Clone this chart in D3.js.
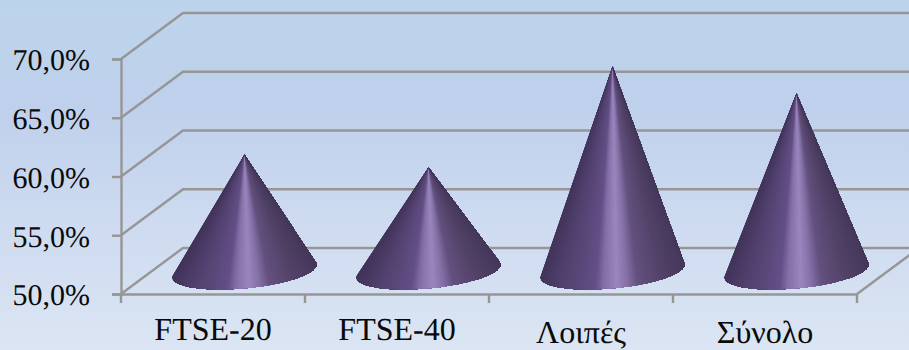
<!DOCTYPE html>
<html>
<head>
<meta charset="utf-8">
<script src="https://cdn.jsdelivr.net/npm/d3@7"></script>
<style>
html,body{margin:0;padding:0;background:#dbe4f3;}
svg{display:block;}
text{font-family:"Liberation Serif","Times New Roman",serif;fill:#0a0a0a;text-rendering:geometricPrecision;}
</style>
</head>
<body>
<svg id="chart" width="909" height="350"></svg>
<script>
// Chart values
const categories = ["FTSE-20", "FTSE-40", "Λοιπές", "Σύνολο"];
const shares = [59.9, 58.8, 67.4, 65.1];
const yTicks = [50, 55, 60, 65, 70];

const width = 909, height = 350;
const svg = d3.select("#chart");

// Oblique projection of the 3D box: back wall sits up and to the right
const depth = { dx: 62, dy: -46 };
const x = d3.scaleBand().domain(categories).range([121, 857]);
const y = d3.scaleLinear().domain([50, 70]).range([294, 59]);
const axisColor = "#969696";
const tickLabel = v => d3.format(".1f")(v).replace(".", ",") + "%";

// Page background
const defs = svg.append("defs");
const bg = defs.append("linearGradient").attr("id", "page")
  .attr("x1", 0).attr("y1", 0).attr("x2", 0).attr("y2", 1);
[[0, "#bcd4eb"], [0.3, "#bfd0ec"], [0.65, "#cedbf0"], [1, "#dbe5f3"]]
  .forEach(([o, c]) => bg.append("stop").attr("offset", o).attr("stop-color", c));
svg.append("rect").attr("width", width).attr("height", height).attr("fill", "url(#page)");

// Gridlines: side-wall slant plus back-wall run
const grid = svg.append("g").attr("fill", "none").attr("stroke", axisColor).attr("stroke-width", 2.4);
grid.selectAll("path").data(yTicks).join("path")
  .attr("d", v => d3.line()([
    [x.range()[0], y(v)],
    [x.range()[0] + depth.dx, y(v) + depth.dy],
    [x.range()[1] + depth.dx, y(v) + depth.dy]
  ]));
grid.append("path").attr("d", d3.line()([
  [x.range()[1], y(50)], [x.range()[1] + depth.dx, y(50) + depth.dy]
]));

// Axes with ticks and labels
const yAxis = d3.axisLeft(y).tickValues(yTicks).tickFormat(tickLabel).tickSize(9).tickPadding(22);
const yG = svg.append("g").attr("transform", `translate(${x.range()[0]},0)`).call(yAxis);
yG.selectAll("path,line").attr("stroke", axisColor).attr("stroke-width", 2.4);
yG.selectAll("text").attr("font-size", 30).attr("dy", "0.36em");

const xAxis = d3.axisBottom(x).tickSize(0).tickPadding(0);
const xG = svg.append("g").attr("transform", `translate(0,${y(50)})`).call(xAxis);
xG.selectAll(".tick line").remove();
xG.select(".domain").attr("stroke", axisColor).attr("stroke-width", 2.4);
xG.selectAll("text").remove();

// Tick marks sit on the band boundaries
const boundaries = categories.map(c => x(c)).concat(x.range()[1]);
svg.append("g").selectAll("line").data(boundaries).join("line")
  .attr("x1", d => d).attr("x2", d => d)
  .attr("y1", y(50)).attr("y2", y(50) + 9)
  .attr("stroke", axisColor).attr("stroke-width", 2.4);

svg.append("g").selectAll("text").data(categories).join("text")
  .attr("x", c => x(c) + x.bandwidth() / 2)
  .attr("y", (c, i) => i < 2 ? 340 : 343)
  .attr("text-anchor", "middle")
  .attr("font-size", 32)
  .text(c => c);

// Cones: the base is a circle on the floor plane, projected to a sheared ellipse
const radiusX = 67.5;
const baseDx = 25, baseDy = -18.5;
const shade = d3.scaleLinear()
  .domain([0, 0.15, 0.38, 0.44, 0.53, 0.6, 0.68, 0.85, 1])
  .range(["#43355c", "#52416f", "#644f86", "#8470a6", "#9b86bd", "#8672a8", "#63507e", "#524268", "#46395c"]);

const cones = svg.append("g");
categories.forEach((c, i) => {
  const cx = x(c) + x.bandwidth() / 2 + depth.dx / 2 + 0.5;
  const cy = y(50) + depth.dy / 2;
  const apex = [cx, y(shares[i]) + depth.dy / 2];
  const rim = t => [
    cx + radiusX * Math.cos(t) + baseDx * Math.sin(t),
    cy + baseDy * Math.sin(t)
  ];
  // Silhouette tangents: rim angles where the edge from the apex grazes the ellipse
  const cross = t => {
    const p = rim(t);
    const dp = [-radiusX * Math.sin(t) + baseDx * Math.cos(t), baseDy * Math.cos(t)];
    return (p[0] - apex[0]) * dp[1] - (p[1] - apex[1]) * dp[0];
  };
  const solve = (lo, hi) => {
    let flo = cross(lo);
    for (let k = 0; k < 50; k++) {
      const mid = (lo + hi) / 2, fm = cross(mid);
      if (fm * flo > 0) { lo = mid; flo = fm; } else hi = mid;
    }
    return (lo + hi) / 2;
  };
  const tRight = solve(-Math.PI / 2, Math.PI / 2);
  const tLeft = solve(Math.PI / 2, 3 * Math.PI / 2);

  // Visible surface runs from the left tangent, round the front, to the right tangent.
  // Each wedge is painted over everything that follows it, so no seams show between wedges.
  const n = 120;
  const angles = d3.range(n + 1).map(k => tLeft + (tRight + 2 * Math.PI - tLeft) * k / n);
  const left = rim(tLeft)[0], right = rim(tRight)[0];
  const share = px => (px - left) / (right - left);
  const outline = k => [apex].concat(angles.slice(k).map(rim));
  cones.append("g").selectAll("path").data(d3.range(n)).join("path")
    .attr("d", k => d3.line()(outline(k)) + "Z")
    .attr("fill", k => shade(share(rim((angles[k] + angles[k + 1]) / 2)[0])));
});
</script>
</body>
</html>
